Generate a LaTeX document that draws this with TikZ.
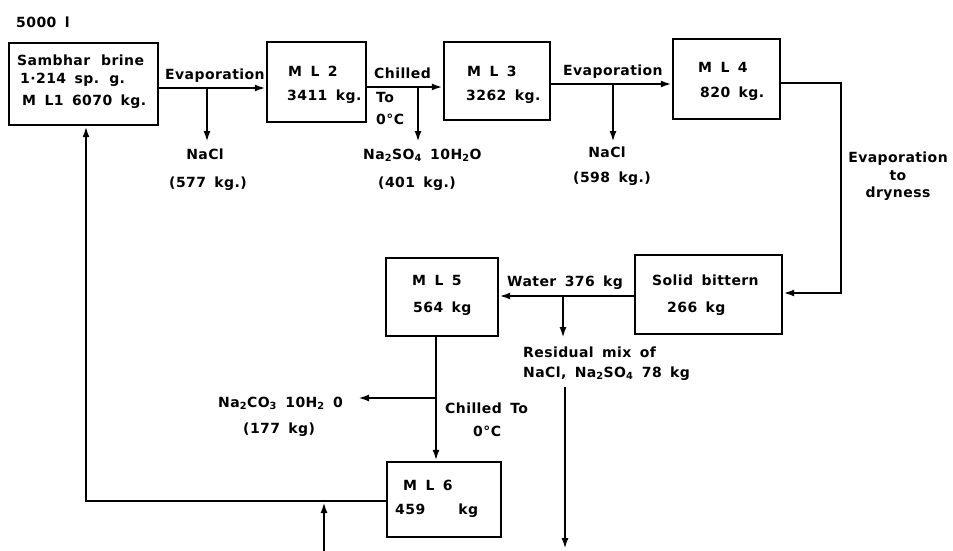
\documentclass[tikz,border=0pt]{standalone}
\usepackage{fontspec}
\setmainfont{DejaVu Sans}[LetterSpace=3]
\usetikzlibrary{arrows.meta}
\newcommand\lblfont{\fontsize{14}{16}\selectfont\bfseries\spaceskip=0.6em\relax}
\begin{document}
\begin{tikzpicture}[x=1pt,y=-1pt,
  every node/.style={font=\lblfont, inner sep=0pt},
  box/.style={draw, line width=2.4pt, inner sep=0pt},
  flow/.style={line width=2.8pt},
  arr/.style={flow, -{Latex[length=11pt,width=7pt]}},
  lw/.style={anchor=base west},
  lc/.style={anchor=base}]
\useasboundingbox (0,0) rectangle (953,551);
% boxes
\node[box, minimum width=149pt, minimum height=82pt] (b1) at (83.5,84) {};
\node[box, minimum width=99pt, minimum height=80pt] (b2) at (316.5,82) {};
\node[box, minimum width=106pt, minimum height=78pt] (b3) at (497,81) {};
\node[box, minimum width=107pt, minimum height=80pt] (b4) at (726.5,79) {};
\node[box, minimum width=147pt, minimum height=79pt] (sb) at (708.5,294.5) {};
\node[box, minimum width=112pt, minimum height=78pt] (m5) at (442,297) {};
\node[box, minimum width=114pt, minimum height=75pt] (m6) at (444,499.5) {};
% box texts
\node[lw] (t5000) at (16,28) {5000 l};
\node[lw] (b1a) at (17,66) {Sambhar\hspace*{11pt}brine};
\node[lw] (b1b) at (20,84) {1·214 sp. g.};
\node[lw] (b1c) at (22,106) {M L1 6070 kg.};
\node[lw] (b2a) at (288,77) {M L 2};
\node[lw] (b2b) at (287,100) {3411 kg.};
\node[lw] (b3a) at (467,77) {M L 3};
\node[lw] (b3b) at (466,100) {3262 kg.};
\node[lw] (b4a) at (698,73) {M L 4};
\node[lw] (b4b) at (700,97) {820 kg.};
\node[lw] (sba) at (652,285) {Solid bittern};
\node[lw] (sbb) at (667,312) {266 kg};
\node[lw] (m5a) at (412,285) {M L 5};
\node[lw] (m5b) at (413,312) {564 kg};
\node[lw] (m6a) at (403,490) {M L 6};
\node[lw] (m6b) at (395,514) {459\hspace*{33pt}kg};
% labels
\node[lw] (ev1) at (165,79) {Evaporation};
\node[lc] (na1) at (205,159) {NaCl};
\node[lc] (na1k) at (208,187) {(577 kg.)};
\node[lw] (ch1) at (374,78) {Chilled};
\node[lw] (ch1b) at (376,102) {To};
\node[lw] (ch1c) at (376,124) {0°C};
\node[lw] (ss) at (363,159) {Na\textsubscript{2}SO\textsubscript{4} 10H\textsubscript{2}O};
\node[lw] (ssk) at (378,187) {(401 kg.)};
\node[lw] (ev2) at (563,76) {Evaporation};
\node[lc] (na2) at (607,157) {NaCl};
\node[lc] (na2k) at (612,182) {(598 kg.)};
\node[lc] (ed1) at (898,162) {Evaporation};
\node[lc] (ed2) at (898,180) {to};
\node[lc] (ed3) at (898,197) {dryness};
\node[lw] (wat) at (507,286) {Water 376 kg};
\node[lw] (res1) at (523,357) {Residual mix of};
\node[lw] (res2) at (523,377) {NaCl, Na\textsubscript{2}SO\textsubscript{4} 78 kg};
\node[lw] (nc) at (218,407) {Na\textsubscript{2}CO\textsubscript{3} 10H\textsubscript{2} 0};
\node[lw] (nck) at (243,433) {(177 kg)};
\node[lw] (ch2) at (445,413) {Chilled To};
\node[lw] (ch2b) at (473,436) {0°C};
% junction coordinates
\coordinate (j1) at (207,88);
\coordinate (e1) at (207,142);
\coordinate (j2) at (418,87);
\coordinate (e2) at (418,142);
\coordinate (j3) at (613,84);
\coordinate (e3) at (613,142);
\coordinate (c1) at (841,83);
\coordinate (c2) at (841,293);
\coordinate (j4) at (563,296);
\coordinate (e4) at (563,338);
\coordinate (r1) at (565,387);
\coordinate (r2) at (565,549);
\coordinate (j5) at (436,398);
\coordinate (e5) at (358,398);
\coordinate (k1) at (86,501);
\coordinate (b0) at (324,551);
\coordinate (k2) at (324,502);
% connectors
\draw[arr] (b1.east |- j1) -- (b2.west |- j1);
\draw[arr] (j1) -- (e1);
\draw[arr] (b2.east |- j2) -- (b3.west |- j2);
\draw[arr] (j2) -- (e2);
\draw[arr] (b3.east |- j3) -- (b4.west |- j3);
\draw[arr] (j3) -- (e3);
\draw[arr] (b4.east |- c1) -- (c1) -- (c2) -- (sb.east |- c2);
\draw[arr] (sb.west |- j4) -- (m5.east |- j4);
\draw[arr] (j4) -- (e4);
\draw[arr] (r1) -- (r2);
\draw[arr] (m5.south -| j5) -- (m6.north -| j5);
\draw[arr] (j5) -- (e5);
\draw[arr] (m6.west |- k1) -- (k1) -- (b1.south -| k1);
\draw[arr] (b0) -- (k2);
\end{tikzpicture}
\end{document}
